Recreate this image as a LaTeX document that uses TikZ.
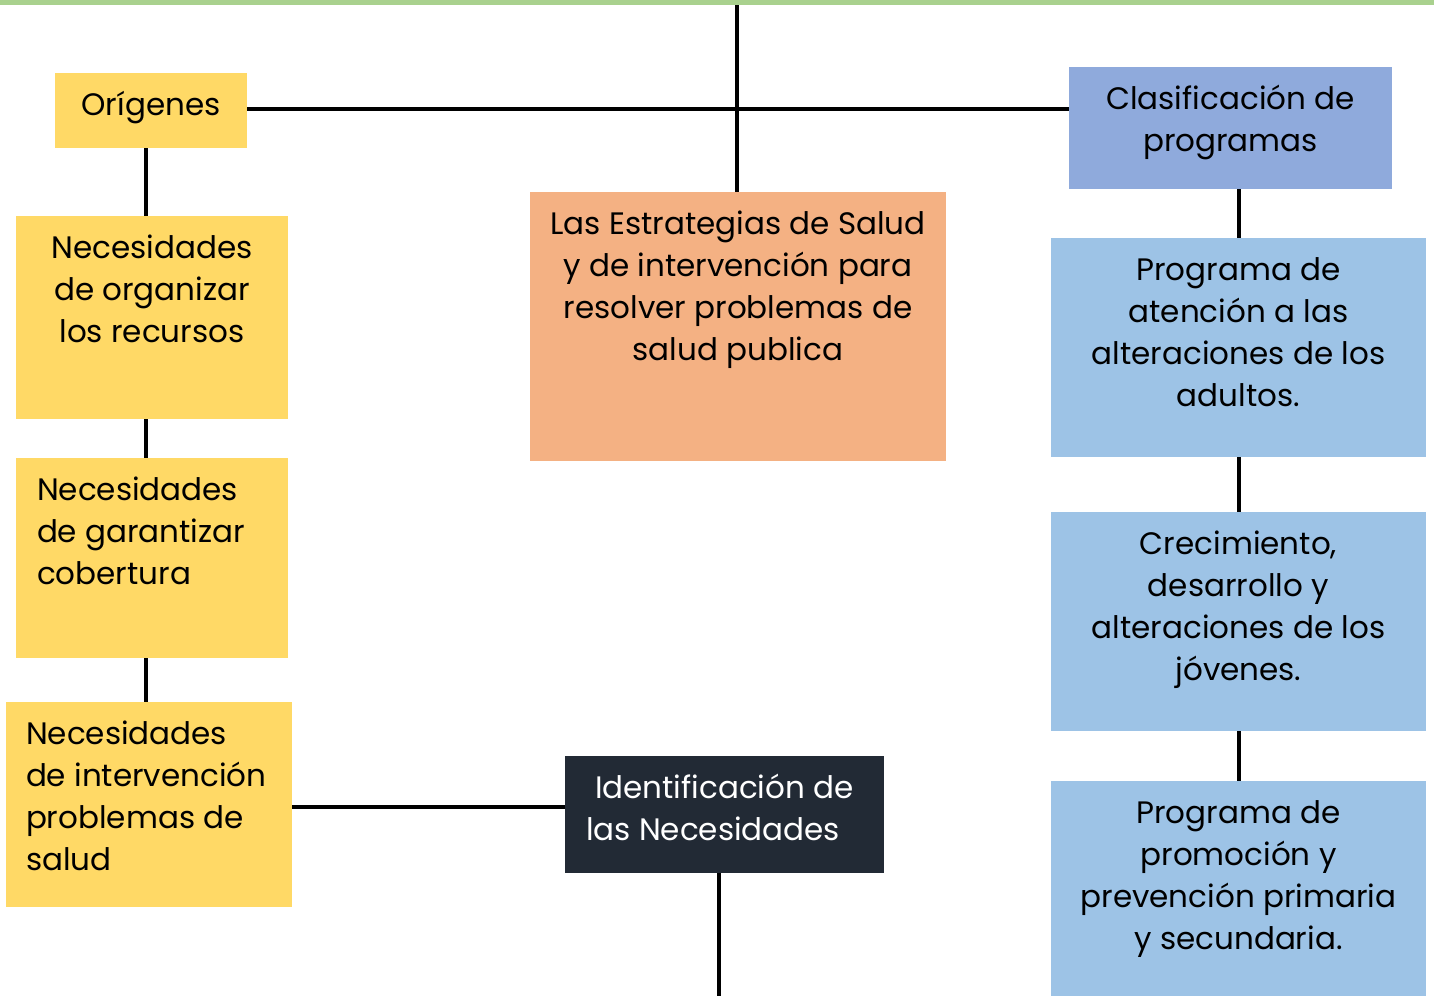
\documentclass[tikz,border=0pt]{standalone}
\usepackage{fontspec}
\setmainfont{Poppins}
\definecolor{barGreen}{HTML}{A9D18E}
\definecolor{yel}{HTML}{FFD966}
\definecolor{ora}{HTML}{F4B183}
\definecolor{dark}{HTML}{222A35}
\definecolor{blueA}{HTML}{8FAADC}
\definecolor{blueB}{HTML}{9DC3E6}
\newcommand\firstline{\rule{0pt}{42pt}}
\tikzset{
  bx/.style={anchor=north west, inner sep=0pt, outer sep=0pt, text=black,
             font=\fontsize{31}{42}\selectfont},
  conn/.style={line width=4pt, black},
}
\begin{document}
\begin{tikzpicture}[x=1pt, y=-1pt]
\useasboundingbox (0,0) rectangle (1434,996);
\fill[barGreen] (0,0) rectangle (1434,5);

% left column
\node[bx, fill=yel] (orig) at (55,73)
  {\parbox[c][75pt][t]{192pt}{\centering\firstline Orígenes}};
\node[bx, fill=yel] (nec1) at (16,216)
  {\parbox[c][203pt][t]{272pt}{\centering\firstline Necesidades\\de organizar\\los recursos}};
\node[bx, fill=yel] (nec2) at (16,458)
  {\parbox[c][200pt][t]{272pt}{\raggedright\leftskip=21pt\firstline Necesidades\\de garantizar\\cobertura}};
\node[bx, fill=yel] (nec3) at (6,702)
  {\parbox[c][205pt][t]{286pt}{\raggedright\leftskip=20pt\firstline Necesidades\\de intervención\\problemas de\\salud}};

% center
\node[bx, fill=ora] (estr) at (530,192)
  {\parbox[c][269pt][t]{416pt}{\centering\firstline Las Estrategias de Salud\\y de intervención para\\resolver problemas de\\salud publica}};
\node[bx, fill=dark, text=white] (ident) at (565,756)
  {\parbox[c][117pt][t]{319pt}{\raggedright\leftskip=21pt\firstline\hspace*{9pt}Identificación de\\las Necesidades}};

% right column
\node[bx, fill=blueA] (clas) at (1069,67)
  {\parbox[c][122pt][t]{323pt}{\centering\firstline Clasificación de\\programas}};
\node[bx, fill=blueB] (prog1) at (1051,238)
  {\parbox[c][219pt][t]{375pt}{\centering\firstline Programa de\\atención a las\\alteraciones de los\\adultos.}};
\node[bx, fill=blueB] (prog2) at (1051,512)
  {\parbox[c][219pt][t]{375pt}{\centering\firstline Crecimiento,\\desarrollo y\\alteraciones de los\\jóvenes.}};
\node[bx, fill=blueB] (prog3) at (1051,781)
  {\parbox[c][215pt][t]{375pt}{\centering\firstline Programa de\\promoción y\\prevención primaria\\y secundaria.}};

% helper coordinates
\coordinate (topc) at (737,5);
\coordinate (lx) at (146,0);
\coordinate (rx) at (1239,0);
\coordinate (hy) at (0,109);
\coordinate (ly) at (0,807);
\coordinate (bot) at (719,996);

% connectors
\draw[conn] (topc) -- (topc |- estr.north);
\draw[conn] (orig.east |- hy) -- (clas.west |- hy);
\draw[conn] (orig.south -| lx) -- (nec1.north -| lx);
\draw[conn] (nec1.south -| lx) -- (nec2.north -| lx);
\draw[conn] (nec2.south -| lx) -- (nec3.north -| lx);
\draw[conn] (clas.south -| rx) -- (prog1.north -| rx);
\draw[conn] (prog1.south -| rx) -- (prog2.north -| rx);
\draw[conn] (prog2.south -| rx) -- (prog3.north -| rx);
\draw[conn] (nec3.east |- ly) -- (ident.west |- ly);
\draw[conn] (ident.south -| bot) -- (bot);
\end{tikzpicture}
\end{document}
